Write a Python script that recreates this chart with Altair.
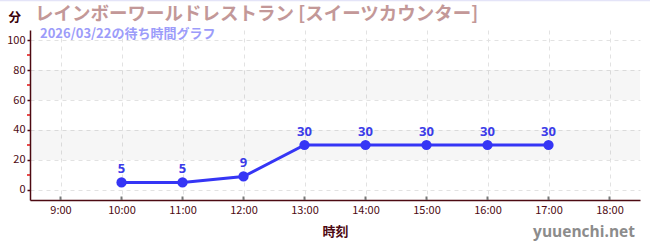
import altair as alt
import pandas as pd

# ---- data -------------------------------------------------------------
hours = [10, 11, 12, 13, 14, 15, 16, 17]
waits = [5, 5, 9, 30, 30, 30, 30, 30]
tick_hours = [9, 10, 11, 12, 13, 14, 15, 16, 17, 18]
y_ticks = [0, 20, 40, 60, 80, 100]
y_minor = [10, 30, 50, 70, 90]
band_lo = [20, 60]
band_hi = [40, 80]

title_text = ["レインボーワールドレストラン [スイーツカウンター]"]
subtitle_text = ["2026/03/22の待ち時間グラフ"]
x_title = "時刻"
y_title = "分"
watermark = ["yuuenchi.net"]

# ---- styles -----------------------------------------------------------
NARROW = "Liberation Sans Narrow, Noto Sans CJK JP, sans-serif"
CJK = "Noto Sans CJK JP, sans-serif"
DARK = "#4d0a12"
BLUE = "#3535f5"

xscale = alt.Scale(domain=[8.5, 18.5], nice=False, zero=False)
yscale = alt.Scale(domain=[-6.67, 106.67], nice=False, zero=False)

xaxis = alt.Axis(
    values=tick_hours, labelExpr="datum.value + ':00'", title=x_title,
    grid=True, gridDash=[4, 4], gridColor="#e2e2e2",
    domainColor=DARK, domainWidth=1.5, ticks=False, labelPadding=4,
    labelFont=NARROW, labelFontSize=11, labelColor=DARK,
    titleFont=CJK, titleFontSize=13, titleFontWeight="bold", titleColor=DARK,
    titleX=305, titleY=35, titleBaseline="alphabetic", titleAlign="center",
)
yaxis = alt.Axis(
    values=y_ticks, title=y_title, grid=True, gridDash=[4, 4], gridColor="#e2e2e2",
    domainColor=DARK, domainWidth=1.5, tickColor=DARK, tickSize=3, tickWidth=1.5,
    labelPadding=2, labelFont=NARROW, labelFontSize=11, labelColor=DARK,
    titleFont=CJK, titleFontSize=12.5, titleFontWeight="bold", titleColor="#3a0008",
    titleAngle=0, titleX=-22, titleY=-9, titleAlign="left", titleBaseline="alphabetic",
)


def X(field):
    return alt.X(field, type="quantitative", scale=xscale, axis=xaxis, title=x_title)


def Y(field):
    return alt.Y(field, type="quantitative", scale=yscale, axis=yaxis, title=y_title)


df = pd.DataFrame({"h": hours, "w": waits})
bands = pd.DataFrame({"lo": band_lo, "hi": band_hi})
minor = pd.DataFrame({"w": y_minor})
xt = pd.DataFrame({"h": tick_hours})
wm = pd.DataFrame({"t": watermark})
tt = pd.DataFrame({"t": title_text})
st = pd.DataFrame({"t": subtitle_text})

band_layer = alt.Chart(bands).mark_rect(color="#000000", opacity=0.035).encode(
    y=Y("lo"), y2="hi", x=alt.value(0), x2=alt.value(610)
)
minor_layer = alt.Chart(minor).mark_rule(color="#dd1111", strokeWidth=1.5).encode(
    y=Y("w"), x=alt.value(-3), x2=alt.value(0)
)
xtick_layer = alt.Chart(xt).mark_rule(color="#777777", strokeWidth=2).encode(
    x=X("h"), y=alt.value(166.5), y2=alt.value(170)
)
line_layer = alt.Chart(df).mark_line(color=BLUE, strokeWidth=3).encode(x=X("h"), y=Y("w"))
point_layer = alt.Chart(df).mark_circle(color=BLUE, size=105, opacity=1).encode(x=X("h"), y=Y("w"))
label_layer = alt.Chart(df).mark_text(
    dy=-9, baseline="alphabetic", font="Noto Sans", fontSize=13, fontWeight="bold", color="#3b3be8"
).encode(x=X("h"), y=Y("w"), text="w:Q")
wm_layer = alt.Chart(wm).mark_text(
    align="right", baseline="alphabetic", font="Open Sans", fontSize=15.5, fontWeight="bold", color="#8c8c8c"
).encode(x=alt.value(605), y=alt.value(207), text="t:N")
title_layer = alt.Chart(tt).mark_text(
    align="left", baseline="alphabetic", font=NARROW, fontSize=18.5, fontWeight="bold", color="#c39898"
).encode(x=alt.value(5), y=alt.value(-10), text="t:N")
subtitle_layer = alt.Chart(st).mark_text(
    align="left", baseline="alphabetic", font=NARROW, fontSize=13, fontWeight="bold", color="#9c9cfa"
).encode(x=alt.value(10), y=alt.value(7.5), text="t:N")
top_line = alt.Chart(wm).mark_rule(color="#e4e4f8", strokeWidth=1.5).encode(
    x=alt.value(-30), x2=alt.value(620), y=alt.value(-29.5)
)

chart = alt.layer(
    band_layer, minor_layer, xtick_layer, line_layer, point_layer, label_layer,
    wm_layer, title_layer, subtitle_layer, top_line
).properties(
    width=610, height=170,
    padding={"left": 30, "top": 30, "right": 10, "bottom": 50},
    autosize=alt.AutoSizeParams(type="none"),
).configure_view(stroke=None)

chart.save("out.html", embed_options={"renderer": "svg", "actions": False})
